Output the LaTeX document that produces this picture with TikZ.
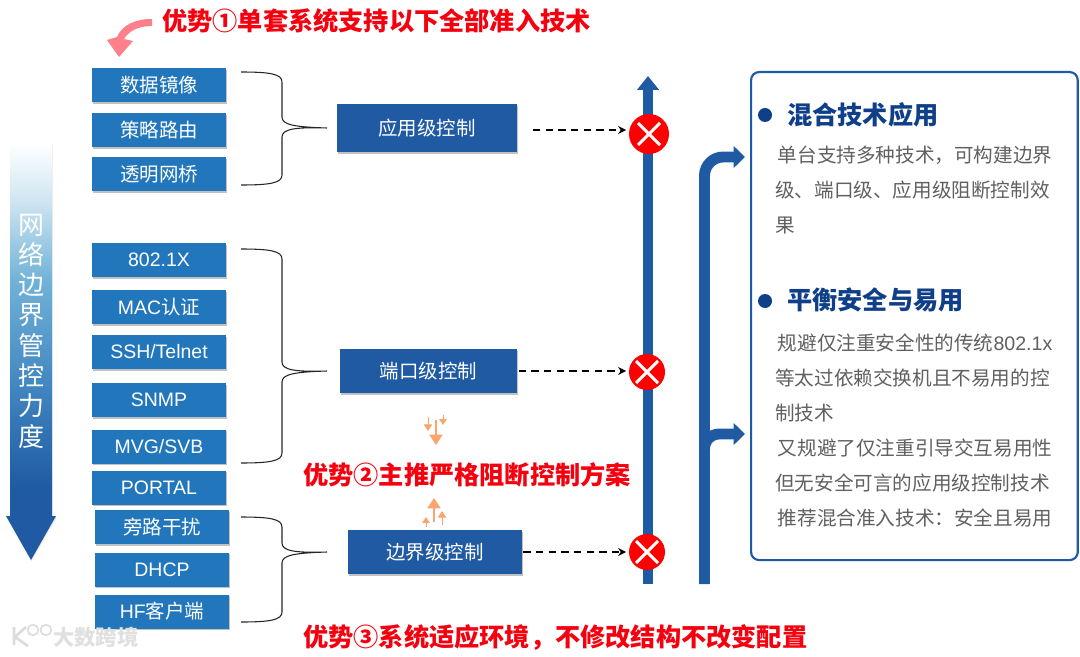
\documentclass[tikz,border=0pt]{standalone}
\usepackage{xcolor}
\usepackage{fontspec}
\setmainfont{Noto Sans CJK SC}
\newfontfamily\latinfont{Liberation Sans}
\usetikzlibrary{arrows.meta, positioning, shadows, calc}
\definecolor{srcblue}{HTML}{2277BC}
\definecolor{ctlblue}{HTML}{1F5AA3}
\definecolor{headblue}{HTML}{0F3F88}
\definecolor{bodygray}{HTML}{606060}
\definecolor{tipred}{HTML}{F5000F}
\definecolor{pinkarrow}{HTML}{FF808A}
\definecolor{orangearrow}{HTML}{FBA46E}
\definecolor{fadepale}{HTML}{CFE5F1}
\definecolor{fademid}{HTML}{70B2D8}
\definecolor{fadelow}{HTML}{3F83BE}
\pgfdeclareverticalshading{depthfade}{100bp}{color(0bp)=(ctlblue); color(33.5bp)=(ctlblue); color(45bp)=(fadelow);
  color(58.5bp)=(fademid); color(68bp)=(fadepale); color(75bp)=(white); color(100bp)=(white)}
\newcommand{\ctlbrace}[4]{%
  \draw[bracket] (241,#1) .. controls (270,#1) and (282,#1+2) .. (282,#1+10) -- (282,#2-10)
    .. controls (282,#2-2) and (295,#2) .. (#4) .. controls (295,#2) and (282,#2+2) .. (282,#2+10)
    -- (282,#3-10) .. controls (282,#3-2) and (270,#3) .. (241,#3);}
\begin{document}
\begin{tikzpicture}[
  x=0.75pt, y=-0.75pt,
  srcbox/.style={rectangle, fill=srcblue, text=white, minimum width=100.5pt, minimum height=25.5pt,
                 inner sep=1pt, outer sep=0pt, font=\fontsize{14.6}{16}\selectfont,
                 drop shadow={shadow xshift=0.5pt, shadow yshift=-1.4pt, opacity=0.35, fill=black!70}},
  ctlbox/.style={srcbox, fill=ctlblue, minimum height=33pt},
  blockmark/.style={circle, fill=red, inner sep=0pt, minimum size=#1,
                    path picture={\draw[white, line width=2.2pt, shift={(path picture bounding box.center)}]
                      (-11,-11) -- (11,11) (-11,11) -- (11,-11);}},
  dasharrow/.style={-{Stealth[length=6pt, width=6pt]}, line width=1.2pt, dash pattern=on 5.5pt off 4pt},
  bararrow/.style={-{Triangle[length=8.5pt, width=16pt]}, ctlblue, line width=8.2pt, rounded corners=14pt},
  bracket/.style={draw=black!85, line width=0.8pt},
  tiptext/.style={text=tipred, font=\fontsize{18.9}{22}\selectfont\bfseries, inner sep=0pt},
  headtext/.style={text=headblue, font=\fontsize{18.9}{22}\selectfont\bfseries, inner sep=0pt, anchor=west},
  bodytext/.style={text=bodygray, font=\fontsize{14.7}{26.25}\selectfont, align=left, inner sep=0pt, anchor=north west},
  bullet/.style={circle, fill=headblue, inner sep=0pt, minimum size=10.5pt},
  smallup/.style={-{Triangle[length=#1*0.55, width=#1*0.7]}, orangearrow, line width=0.7pt},
]
  \useasboundingbox (0,0) rectangle (1080,656);

  % left gradient arrow
  \shade[shading=depthfade, drop shadow={shadow xshift=0.5pt, shadow yshift=-0.8pt, opacity=0.2}]
    (10,143) -- (52,143) -- (52,516) -- (56,516) -- (31,560) -- (6,516) -- (10,516) -- cycle;
  \node[text=white, font=\fontsize{19.5}{22.7}\selectfont, align=center, inner sep=0pt] (depth) at (31,331)
    {网\\络\\边\\界\\管\\控\\力\\度};

  % source boxes, top group
  \node[srcbox] (mirror) at (159,85) {数据镜像};
  \node[srcbox, below=8.25pt of mirror] (route) {策略路由};
  \node[srcbox, below=7.5pt of route] (bridge) {透明网桥};

  % source boxes, middle group
  \node[srcbox, below=39pt of bridge] (dot1x) {\latinfont 802.1X};
  \node[srcbox, below=9.75pt of dot1x] (mac) {{\latinfont MAC}认证};
  \node[srcbox, below=8.25pt of mac] (ssh) {\latinfont SSH/Telnet};
  \node[srcbox, below=10.5pt of ssh] (snmp) {\latinfont SNMP};
  \node[srcbox, below=9.4pt of snmp] (mvg) {\latinfont MVG/SVB};
  \node[srcbox, below=5.25pt of mvg] (portal) {\latinfont PORTAL};

  % source boxes, bottom group
  \node[srcbox, below=4.1pt of portal, xshift=2.25pt] (bypass) {旁路干扰};
  \node[srcbox, below=6.4pt of bypass] (dhcp) {\latinfont DHCP};
  \node[srcbox, below=6pt of dhcp] (hf) {{\latinfont HF}客户端};

  % control boxes
  \node[ctlbox, minimum width=135pt, minimum height=36pt] (appctl) at (427,128) {应用级控制};
  \node[ctlbox, minimum width=133pt] (portctl) at (428.5,371) {端口级控制};
  \node[ctlbox, minimum width=130.5pt] (edgectl) at (435,552) {边界级控制};

  % braces
  \coordinate (apptip) at ($(appctl.west)+(-10,0)$);
  \coordinate (porttip) at ($(portctl.west)+(-13,0)$);
  \coordinate (edgetip) at ($(edgectl.west)+(-21,0)$);
  \ctlbrace{72}{127}{185}{apptip}
  \ctlbrace{249}{372}{463}{porttip}
  \ctlbrace{517}{553}{622}{edgetip}

  % vertical bars
  \coordinate (barbot) at (648,584);
  \coordinate (bartop) at (648,76);
  \draw[-{Triangle[length=10.5pt, width=16pt]}, ctlblue, line width=8.2pt] (barbot) -- (bartop);
  \coordinate (splitbot) at (704.5,584);
  \coordinate (splitmid) at (704.5,434);
  \coordinate (splittop) at (704.5,157);
  \coordinate (hightip) at (745,157);
  \coordinate (lowtip) at (745,434);
  \draw[bararrow] (splitbot) -- (splittop) -- (hightip);
  \draw[bararrow, rounded corners=11pt] (704.5,470) -- (splitmid) -- (lowtip);

  % block marks
  \node[blockmark=30pt] (blkapp) at (649,134) {};
  \node[blockmark=27pt] (blkport) at (647,372) {};
  \node[blockmark=27pt] (blkedge) at (647,552) {};
  \draw[dasharrow, shorten <=12pt] ([yshift=-1.5pt]appctl.east) -- ([yshift=-1.5pt,xshift=-2pt]blkapp.west |- appctl.east);
  \draw[dasharrow, shorten <=1pt] (portctl.east) -- ([xshift=-2pt]blkport.west |- portctl.east);
  \draw[dasharrow, shorten <=1pt] (edgectl.east) -- ([xshift=-2pt]blkedge.west |- edgectl.east);

  % red remarks
  \node[tiptext, anchor=west] (tipone) at (162,21) {优势①单套系统支持以下全部准入技术};
  \node[tiptext, anchor=west] (tiptwo) at (303,475) {优势②主推严格阻断控制方案};
  \node[tiptext, anchor=west] (tipthree) at (303,637) {优势③系统适应环境，不修改结构不改变配置};
  \fill[pinkarrow] (152,19) .. controls (135,19) and (122,25) .. (117,37) -- (107,40) -- (119,57) -- (133,41) -- (124,39)
    .. controls (129,31) and (138,26) .. (152,26) -- cycle;

  % small orange arrows
  \draw[smallup=14pt, line width=1pt] (436,420) -- (436,445);
  \draw[smallup=9pt] (428,417) -- (428,431);
  \draw[smallup=8pt] (443,415) -- (443,425);
  \draw[smallup=14pt, line width=1pt] (434,522) -- (434,498);
  \draw[smallup=9pt] (442,525) -- (442,511);
  \draw[smallup=8pt] (426,527) -- (426,517);

  % right panel
  \node[draw=ctlblue, line width=1.6pt, rounded corners=6pt, fill=white, minimum width=245pt, minimum height=366pt,
        anchor=north west, inner sep=0pt] (panel) at (750,71) {};
  \node[bullet] (dotmix) at (765,115) {};
  \node[headtext, right=11pt of dotmix] (mixhead) {混合技术应用};
  \node[bodytext] (mixbody) at (775,146) {\hspace{2pt}单台支持多种技术，可构建边界\\级、端口级、应用级阻断控制效\\果};
  \node[bullet] (dotbal) at (765,301) {};
  \node[headtext, right=11pt of dotbal, yshift=0.7pt] (balhead) {平衡安全与易用};
  \node[bodytext] (balbody) at (775,334) {\hspace{2pt}规避仅注重安全性的传统{\latinfont 802.1x}\\等太过依赖交换机且不易用的控\\制技术\\\hspace{2pt}又规避了仅注重引导交互易用性\\但无安全可言的应用级控制技术\\\hspace{2pt}推荐混合准入技术：安全且易用};

  % watermark
  \node[text=black!12, font=\fontsize{16}{18}\selectfont\bfseries, inner sep=0pt, anchor=west] (mark) at (53,637) {大数跨境};
  \draw[black!14, line width=2pt] (14,627) -- (14,645) (26,627) -- (15,637) -- (28,646);
  \node[draw=black!14, circle, line width=1.2pt, minimum size=8pt, inner sep=0pt] (markring) at (33,630) {};
  \node[draw=black!14, circle, line width=1.2pt, minimum size=8pt, inner sep=0pt, right=0.5pt of markring] (markringb) {};
\end{tikzpicture}
\end{document}
